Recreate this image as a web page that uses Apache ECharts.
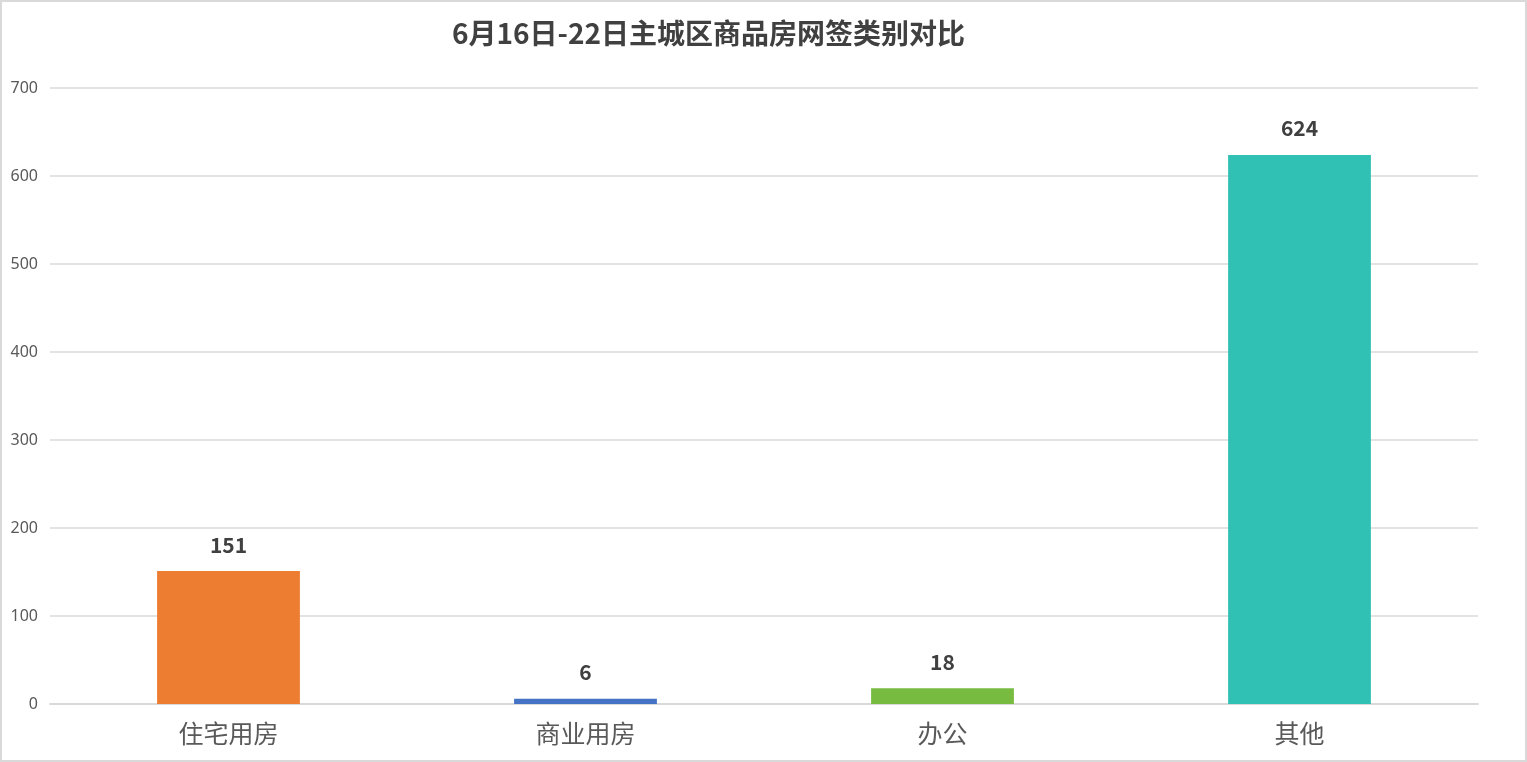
<!DOCTYPE html>
<html>
<head>
<meta charset="utf-8">
<title>6月16日-22日主城区商品房网签类别对比</title>
<script src="https://cdn.jsdelivr.net/npm/echarts@6/dist/echarts.min.js"></script>
<style>
  html, body { margin: 0; padding: 0; background: #fff; }
  #chart { width: 1523px; height: 758px; border: 2px solid #d9d9d9; }
</style>
</head>
<body>
<div id="chart"></div>
<script>
// 网签类别及套数
var categories = ['住宅用房', '商业用房', '办公', '其他']
var values = [151, 6, 18, 624]
var barColors = ['#ED7D31', '#4472C4', '#77BB41', '#31C1B4']
var yTicks = [0, 100, 200, 300, 400, 500, 600, 700]

var chart = echarts.init(document.getElementById('chart'), null, { renderer: 'canvas' })

chart.setOption({
  animation: false,
  title: {
    text: '6月16日-22日主城区商品房网签类别对比',
    left: 445,
    top: 12,
    textStyle: {
      fontFamily: 'Noto Sans CJK SC',
      fontSize: 28,
      fontWeight: 'bold',
      color: '#404040'
    }
  },
  grid: {
    left: 48,
    right: 47,
    top: 86,
    bottom: 56,
    containLabel: false
  },
  xAxis: {
    type: 'category',
    data: categories,
    axisTick: { show: false },
    axisLine: { lineStyle: { color: '#d9d9d9', width: 2 } },
    axisLabel: {
      margin: 17,
      fontFamily: 'Noto Sans CJK SC',
      fontSize: 25,
      color: '#595959'
    }
  },
  yAxis: {
    type: 'value',
    min: yTicks[0],
    max: yTicks[yTicks.length - 1],
    interval: 100,
    axisLine: { show: false },
    axisTick: { show: false },
    axisLabel: {
      margin: 12,
      fontFamily: 'Noto Sans',
      fontSize: 16,
      color: '#595959'
    },
    splitLine: { lineStyle: { color: '#e3e3e3', width: 2 } }
  },
  series: [{
    type: 'bar',
    barWidth: '40%',
    data: values.map(function (v, i) {
      return { value: v, itemStyle: { color: barColors[i] } }
    }),
    label: {
      show: true,
      position: 'top',
      distance: 16,
      fontFamily: 'Noto Sans CJK SC',
      fontSize: 21,
      fontWeight: 'bold',
      color: '#404040'
    }
  }]
})
</script>
</body>
</html>
